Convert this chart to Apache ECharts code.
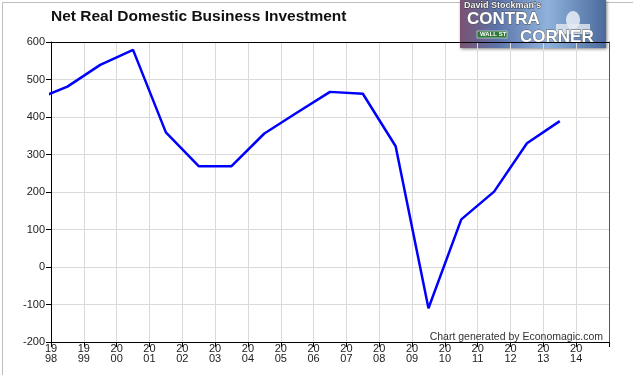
<!DOCTYPE html>
<html>
<head>
<meta charset="utf-8">
<title>Net Real Domestic Business Investment</title>
<script src="https://cdn.jsdelivr.net/npm/echarts@6/dist/echarts.min.js"></script>
<style>
  html, body { margin: 0; padding: 0; background: #fff; }
  #chart { width: 633px; height: 375px; }
</style>
</head>
<body>
<div id="chart"></div>
<script>
// annual values, plotted at mid-year
const years = [1997, 1998, 1999, 2000, 2001, 2002, 2003, 2004, 2005, 2006, 2007, 2008, 2009, 2010, 2011, 2012, 2013];
const investment = [445, 481, 539, 579, 359, 269, 269, 356, 412, 467, 462, 322, -110, 127, 201, 330, 389];

const yTicks = { min: -200, max: 600, step: 100 };
const xRange = { min: 1998, max: 2015, lastLabel: 2014 };

const chart = echarts.init(document.getElementById('chart'));

const points = years.map((y, i) => [y + 0.5, investment[i]]);

// logo block top right (decoration only)
const logo = {
    type: 'group',
    left: 460,
    top: 0,
    children: [
        {
            type: 'rect',
            shape: { x: 0, y: 0, width: 146, height: 48 },
            style: {
                fill: new echarts.graphic.LinearGradient(0, 0, 1, 0, [
                    { offset: 0, color: '#7a5272' },
                    { offset: 0.25, color: '#5b73a8' },
                    { offset: 0.6, color: '#8fb2dc' },
                    { offset: 1, color: '#4a6a9c' }
                ]),
                shadowBlur: 3,
                shadowColor: 'rgba(0,0,0,0.5)',
                shadowOffsetX: 1,
                shadowOffsetY: 1
            }
        },
        { type: 'ellipse', shape: { cx: 113, cy: 20, rx: 7, ry: 9 }, style: { fill: 'rgba(240,244,250,0.8)' } },
        { type: 'rect', shape: { x: 96, y: 24, width: 34, height: 10 }, style: { fill: 'rgba(230,235,243,0.8)' } },
        {
            type: 'text', x: 4, y: 1,
            style: { text: "David Stockman's", fill: '#f2f2f2', font: 'bold 9px Arial', stroke: '#333', lineWidth: 0.8 }
        },
        {
            type: 'text', x: 7, y: 11,
            style: { text: 'CONTRA', fill: '#ffffff', font: 'bold 17px Arial', stroke: '#555', lineWidth: 0.8 }
        },
        { type: 'rect', shape: { x: 17, y: 31, width: 30, height: 7 }, style: { fill: '#2f7a3a', stroke: '#fff', lineWidth: 0.5 } },
        {
            type: 'text', x: 20, y: 31,
            style: { text: 'WALL ST', fill: '#fff', font: 'bold 6px Arial' }
        },
        {
            type: 'text', x: 60, y: 29,
            style: { text: 'CORNER', fill: '#ffffff', font: 'bold 17px Arial', stroke: '#555', lineWidth: 0.8 }
        }
    ]
};

const option = {
    backgroundColor: '#fff',
    animation: false,
    title: [
        {
            text: 'Net Real Domestic Business Investment',
            left: 46,
            top: 4,
            textStyle: { fontFamily: 'Arial, Liberation Sans', fontSize: 15.5, fontWeight: 'bold', color: '#111' }
        },
        {
            text: 'Chart generated by Economagic.com',
            right: 25,
            top: 327,
            textStyle: { fontFamily: 'Arial, Liberation Sans', fontSize: 10.5, fontWeight: 'normal', color: '#333' }
        }
    ],
    graphic: [
        {
            type: 'rect',
            left: 0, top: 0,
            shape: { x: 0.5, y: 0.5, width: 632, height: 374 },
            style: { fill: 'none', stroke: '#bdbdbd', lineWidth: 1 },
            silent: true
        },
        logo
    ],
    grid: { left: 51, right: 24, top: 42, bottom: 33 },
    xAxis: [
        {
            type: 'value',
            min: xRange.min,
            max: xRange.max,
            interval: 1,
            axisLine: { show: true, onZero: false, lineStyle: { color: '#000', width: 1 } },
            axisTick: { show: true, length: 5, lineStyle: { color: '#000' } },
            splitLine: { show: true, lineStyle: { color: '#dadada', width: 1 } },
            axisLabel: {
                margin: 2,
                fontFamily: 'Arial, Liberation Sans',
                fontSize: 11,
                lineHeight: 10,
                color: '#222',
                showMaxLabel: true,
                formatter: v => {
                    if (v > xRange.lastLabel) return '';
                    const s = String(v);
                    return s.slice(0, 2) + '\n' + s.slice(2);
                }
            }
        },
        {
            type: 'value',
            position: 'top',
            min: xRange.min,
            max: xRange.max,
            axisLine: { show: true, onZero: false, lineStyle: { color: '#000', width: 1 } },
            axisTick: { show: false },
            axisLabel: { show: false },
            splitLine: { show: false }
        }
    ],
    yAxis: [
        {
            type: 'value',
            min: yTicks.min,
            max: yTicks.max,
            interval: yTicks.step,
            axisLine: { show: true, onZero: false, lineStyle: { color: '#000', width: 1 } },
            axisTick: { show: true, length: 5, lineStyle: { color: '#000' } },
            splitLine: { show: true, lineStyle: { color: '#dadada', width: 1 } },
            axisLabel: {
                margin: 6,
                fontFamily: 'Arial, Liberation Sans',
                fontSize: 11,
                color: '#222'
            }
        },
        {
            type: 'value',
            position: 'right',
            min: yTicks.min,
            max: yTicks.max,
            axisLine: { show: true, onZero: false, lineStyle: { color: '#555', width: 1 } },
            axisTick: { show: false },
            axisLabel: { show: false },
            splitLine: { show: false }
        }
    ],
    series: [
        {
            type: 'line',
            data: points,
            clip: true,
            symbol: 'none',
            lineStyle: { color: '#0000ff', width: 2.5 }
        }
    ]
};

chart.setOption(option);
</script>
</body>
</html>
